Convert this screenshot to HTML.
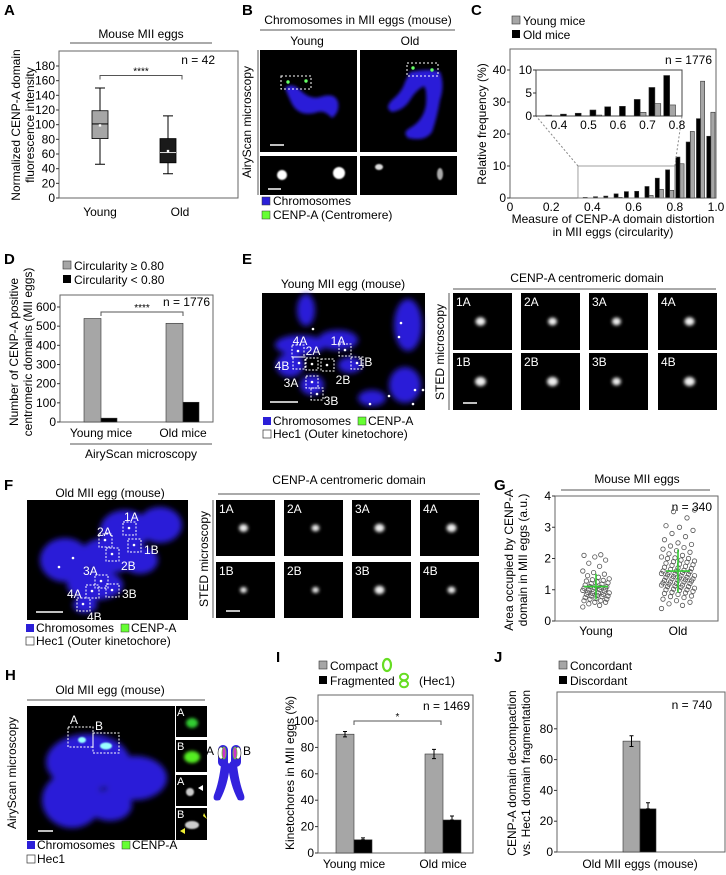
<!DOCTYPE html>
<html><head><meta charset="utf-8">
<style>
html,body{margin:0;padding:0;background:#fff;}
svg{display:block;font-family:"Liberation Sans",Arial,sans-serif;}
.pl{font-weight:bold;font-size:15px;}
.t12{font-size:12px;}
.t11{font-size:11px;}
</style></head>
<body>
<svg id="fig" width="726" height="875" viewBox="0 0 726 875" xmlns="http://www.w3.org/2000/svg">
<defs>
<filter id="bl" x="-20%" y="-20%" width="140%" height="140%"><feGaussianBlur stdDeviation="3"/></filter>
<filter id="bs" x="-50%" y="-50%" width="200%" height="200%"><feGaussianBlur stdDeviation="1.6"/></filter>
<filter id="bt" x="-50%" y="-50%" width="200%" height="200%"><feGaussianBlur stdDeviation="0.7"/></filter>
</defs>

<!-- Panel labels -->
<text class="pl" x="4" y="15">A</text>
<text class="pl" x="242" y="15">B</text>
<text class="pl" x="471" y="15">C</text>
<text class="pl" x="4" y="264">D</text>
<text class="pl" x="242" y="264">E</text>
<text class="pl" x="4" y="490">F</text>
<text class="pl" x="494" y="490">G</text>
<text class="pl" x="5" y="680">H</text>
<text class="pl" x="276" y="662">I</text>
<text class="pl" x="494" y="662">J</text>

<!-- Panel A static -->
<g id="pA">
<text class="t12" x="141" y="38" text-anchor="middle">Mouse MII eggs</text>
<line x1="70" y1="43" x2="212" y2="43" stroke="#555"/>
<rect x="59" y="51" width="179" height="147" fill="none" stroke="#666"/>
<text class="t12" x="215" y="64" text-anchor="end">n = 42</text>
<text class="t12" transform="translate(20,125) rotate(-90)" text-anchor="middle">Normalized CENP-A domain</text>
<text class="t12" transform="translate(34,125) rotate(-90)" text-anchor="middle">fluorescence intensity</text>
</g>

<!-- Panel B images -->
<g id="pB">
<text class="t12" x="358" y="24" text-anchor="middle">Chromosomes in MII eggs (mouse)</text>
<line x1="260" y1="30" x2="455" y2="30" stroke="#555"/>
<text class="t12" x="307" y="45" text-anchor="middle">Young</text>
<text class="t12" x="410" y="45" text-anchor="middle">Old</text>
<line x1="258" y1="50" x2="258" y2="195" stroke="#555"/>
<text class="t12" transform="translate(251,122) rotate(-90)" text-anchor="middle">AiryScan microscopy</text>
<rect x="260" y="50" width="97" height="102" fill="#000"/>
<rect x="360" y="50" width="97" height="102" fill="#000"/>
<rect x="260" y="156" width="97" height="39" fill="#000"/>
<rect x="360" y="156" width="97" height="39" fill="#000"/>
<path d="M285 88 Q292 82 300 90 Q310 100 320 97 Q335 92 338 102 Q340 112 332 118 Q325 110 318 112 Q300 118 292 104 Q288 96 285 88 Z" fill="#2b1fd8" filter="url(#bs)"/>
<path d="M410 72 Q430 68 440 72 Q445 85 440 100 Q437 118 432 132 Q425 142 408 138 Q402 132 410 128 Q424 120 426 104 Q427 90 424 86 Q416 90 410 100 Q404 110 392 112 Q384 108 392 100 Q402 92 405 82 Z" fill="#2b1fd8" filter="url(#bs)"/>
<rect x="281" y="76" width="30" height="13" fill="none" stroke="#fff" stroke-dasharray="2,2"/>
<rect x="407" y="63" width="31" height="13" fill="none" stroke="#fff" stroke-dasharray="2,2"/>
<circle cx="288" cy="82" r="1.7" fill="#6f6"/>
<circle cx="306" cy="81" r="1.7" fill="#6f6"/>
<circle cx="413" cy="68" r="1.7" fill="#6f6"/>
<circle cx="432" cy="70" r="1.7" fill="#6f6"/>
<circle cx="282" cy="175" r="5" fill="#fff" filter="url(#bt)"/>
<circle cx="339" cy="173" r="6" fill="#fff" filter="url(#bt)"/>
<ellipse cx="379" cy="167" rx="4" ry="3" fill="#ddd" filter="url(#bt)"/>
<ellipse cx="440" cy="174" rx="3" ry="6" fill="#aaa" filter="url(#bt)"/>
<line x1="270" y1="145" x2="284" y2="145" stroke="#fff" stroke-width="1.5"/>
<line x1="268" y1="189" x2="281" y2="189" stroke="#fff" stroke-width="1.5"/>
<rect x="262" y="197" width="8" height="8" fill="#2b1fd8" stroke="#333" stroke-width="0.5"/>
<text class="t12" x="273" y="205">Chromosomes</text>
<rect x="262" y="211" width="8" height="8" fill="#6f3" stroke="#333" stroke-width="0.5"/>
<text class="t12" x="273" y="219">CENP-A (Centromere)</text>
</g>

<!-- Panel C static -->
<g id="pC">
<rect x="512" y="16" width="8" height="8" fill="#a6a6a6" stroke="#333" stroke-width="0.6"/>
<text class="t12" x="523" y="25">Young mice</text>
<rect x="512" y="30" width="8" height="8" fill="#000"/>
<text class="t12" x="523" y="39">Old mice</text>
<rect x="510" y="49" width="206" height="149" fill="none" stroke="#666"/>
<text class="t12" x="712" y="64" text-anchor="end">n = 1776</text>
<text class="t12" transform="translate(486,124) rotate(-90)" text-anchor="middle">Relative frequency (%)</text>
<text class="t12" x="613" y="223" text-anchor="middle">Measure of CENP-A domain distortion</text>
<text class="t12" x="613" y="236" text-anchor="middle">in MII eggs (circularity)</text>
</g>

<!-- Panel D static -->
<g id="pD">
<rect x="63" y="261" width="8" height="8" fill="#a6a6a6" stroke="#333" stroke-width="0.6"/>
<text class="t12" x="74" y="270">Circularity ≥ 0.80</text>
<rect x="63" y="275" width="8" height="8" fill="#000"/>
<text class="t12" x="74" y="284">Circularity &lt; 0.80</text>
<rect x="60" y="295" width="153" height="127" fill="none" stroke="#666"/>
<text class="t12" x="210" y="306" text-anchor="end">n = 1776</text>
<text class="t12" transform="translate(18,352) rotate(-90)" text-anchor="middle">Number of CENP-A positive</text>
<text class="t12" transform="translate(32,352) rotate(-90)" text-anchor="middle">centromeric domains (MII eggs)</text>
<line x1="70" y1="444" x2="212" y2="444" stroke="#555"/>
<text class="t12" x="141" y="458" text-anchor="middle">AiryScan microscopy</text>
</g>

<!-- Panel E images -->
<g id="pE">
<text class="t12" x="343" y="288" text-anchor="middle">Young MII egg (mouse)</text>
<rect x="262" y="293" width="163" height="117" fill="#000"/>
<g filter="url(#bl)" fill="#2b1fd8">
<ellipse cx="306" cy="310" rx="9" ry="16"/><ellipse cx="300" cy="345" rx="25" ry="10"/><ellipse cx="290" cy="365" rx="14" ry="12"/>
<ellipse cx="338" cy="340" rx="20" ry="10"/><ellipse cx="312" cy="385" rx="12" ry="10"/><ellipse cx="408" cy="325" rx="14" ry="26"/>
<ellipse cx="405" cy="385" rx="16" ry="18"/><ellipse cx="372" cy="398" rx="14" ry="8"/><ellipse cx="350" cy="365" rx="12" ry="8"/>
</g>
<text class="t12" x="338" y="345" text-anchor="middle" fill="#fff">1A</text>
<text class="t12" x="300" y="345" text-anchor="middle" fill="#fff">4A</text>
<text class="t12" x="313" y="355" text-anchor="middle" fill="#fff">2A</text>
<text class="t12" x="365" y="366" text-anchor="middle" fill="#fff">1B</text>
<text class="t12" x="282" y="370" text-anchor="middle" fill="#fff">4B</text>
<text class="t12" x="343" y="384" text-anchor="middle" fill="#fff">2B</text>
<text class="t12" x="291" y="387" text-anchor="middle" fill="#fff">3A</text>
<text class="t12" x="331" y="405" text-anchor="middle" fill="#fff">3B</text>
<g fill="none" stroke="#fff" stroke-dasharray="2,1.5">
<rect x="292" y="345" width="12" height="12"/><rect x="339" y="344" width="12" height="12"/><rect x="293" y="357" width="12" height="12"/>
<rect x="306" y="358" width="12" height="12"/><rect x="321" y="359" width="13" height="12"/><rect x="351" y="357" width="12" height="12"/>
<rect x="306" y="376" width="12" height="12"/><rect x="311" y="388" width="12" height="12"/>
</g>
<g fill="#fff"><circle cx="298" cy="351" r="1.3"/><circle cx="345" cy="350" r="1.3"/><circle cx="299" cy="363" r="1.3"/><circle cx="312" cy="364" r="1.3"/><circle cx="327" cy="365" r="1.3"/><circle cx="357" cy="363" r="1.3"/><circle cx="312" cy="382" r="1.3"/><circle cx="317" cy="394" r="1.3"/><circle cx="313" cy="329" r="1.3"/><circle cx="401" cy="323" r="1.3"/><circle cx="399" cy="337" r="1.3"/><circle cx="370" cy="404" r="1.3"/><circle cx="389" cy="396" r="1.3"/><circle cx="415" cy="390" r="1.3"/><circle cx="423" cy="390" r="1.3"/><circle cx="413" cy="404" r="1.3"/></g>
<line x1="270" y1="402" x2="298" y2="402" stroke="#fff" stroke-width="1.5"/>
<rect x="263" y="417" width="8" height="8" fill="#2b1fd8"/>
<text class="t12" x="273" y="425">Chromosomes</text>
<rect x="358" y="417" width="8" height="8" fill="#6f3" stroke="#333" stroke-width="0.5"/>
<text class="t12" x="368" y="425">CENP-A</text>
<rect x="263" y="430" width="8" height="8" fill="#fff" stroke="#333" stroke-width="0.7"/>
<text class="t12" x="273" y="438">Hec1 (Outer kinetochore)</text>
<text class="t12" x="587" y="282" text-anchor="middle">CENP-A centromeric domain</text>
<line x1="453" y1="289" x2="716" y2="289" stroke="#555"/>
<line x1="449" y1="293" x2="449" y2="410" stroke="#555"/>
<text class="t12" transform="translate(444,352) rotate(-90)" text-anchor="middle">STED microscopy</text>
<g id="eTiles"></g>
</g>

<!-- Panel F images -->
<g id="pF">
<text class="t12" x="110" y="497" text-anchor="middle">Old MII egg (mouse)</text>
<rect x="27" y="500" width="161" height="120" fill="#000"/>
<g filter="url(#bl)" fill="#2b1fd8">
<ellipse cx="160" cy="525" rx="22" ry="18"/><ellipse cx="125" cy="530" rx="25" ry="20"/><ellipse cx="110" cy="555" rx="30" ry="18"/>
<ellipse cx="65" cy="560" rx="25" ry="22"/><ellipse cx="95" cy="585" rx="28" ry="15"/><ellipse cx="140" cy="560" rx="18" ry="14"/>
<ellipse cx="85" cy="605" rx="12" ry="8"/>
</g>
<g fill="none" stroke="#fff" stroke-dasharray="2,1.5">
<rect x="123" y="522" width="13" height="13"/><rect x="99" y="534" width="13" height="13"/><rect x="128" y="539" width="13" height="13"/>
<rect x="106" y="548" width="13" height="13"/><rect x="95" y="575" width="13" height="13"/><rect x="106" y="584" width="13" height="13"/>
<rect x="86" y="585" width="13" height="13"/><rect x="77" y="598" width="13" height="13"/>
</g>
<g fill="#fff" font-size="12">
<text x="124" y="521">1A</text><text x="97" y="536">2A</text><text x="144" y="554">1B</text><text x="121" y="570">2B</text>
<text x="83" y="575">3A</text><text x="67" y="598">4A</text><text x="122" y="598">3B</text><text x="87" y="621">4B</text>
<circle cx="129" cy="528" r="1.3"/><circle cx="105" cy="540" r="1.3"/><circle cx="134" cy="545" r="1.3"/><circle cx="112" cy="554" r="1.3"/><circle cx="73" cy="558" r="1.3"/><circle cx="59" cy="567" r="1.3"/><circle cx="101" cy="581" r="1.3"/><circle cx="112" cy="590" r="1.3"/><circle cx="92" cy="591" r="1.3"/><circle cx="83" cy="604" r="1.3"/>
</g>
<line x1="36" y1="612" x2="63" y2="612" stroke="#fff" stroke-width="1.5"/>
<rect x="26" y="624" width="8" height="8" fill="#2b1fd8"/>
<text class="t12" x="36" y="632">Chromosomes</text>
<rect x="121" y="624" width="8" height="8" fill="#6f3" stroke="#333" stroke-width="0.5"/>
<text class="t12" x="131" y="632">CENP-A</text>
<rect x="26" y="637" width="8" height="8" fill="#fff" stroke="#333" stroke-width="0.7"/>
<text class="t12" x="36" y="645">Hec1 (Outer kinetochore)</text>
<text class="t12" x="349" y="484" text-anchor="middle">CENP-A centromeric domain</text>
<line x1="218" y1="494" x2="480" y2="494" stroke="#555"/>
<line x1="213" y1="500" x2="213" y2="618" stroke="#555"/>
<text class="t12" transform="translate(208,559) rotate(-90)" text-anchor="middle">STED microscopy</text>
<g id="fTiles"></g>
</g>

<!-- Panel G static -->
<g id="pG">
<text class="t12" x="637" y="483" text-anchor="middle">Mouse MII eggs</text>
<line x1="561" y1="490" x2="710" y2="490" stroke="#555"/>
<rect x="555" y="496" width="163" height="125" fill="none" stroke="#666"/>
<text class="t12" x="712" y="511" text-anchor="end">n = 340</text>
<text class="t12" transform="translate(513,560) rotate(-90)" text-anchor="middle">Area occupied by CENP-A</text>
<text class="t12" transform="translate(527,560) rotate(-90)" text-anchor="middle">domain in MII eggs (a.u.)</text>
</g>

<!-- Panel H images -->
<g id="pH">
<text class="t12" x="110" y="694" text-anchor="middle">Old MII egg (mouse)</text>
<line x1="27" y1="700" x2="205" y2="700" stroke="#555"/>
<line x1="33" y1="706" x2="33" y2="840" stroke="#555"/>
<text class="t12" transform="translate(16,773) rotate(-90)" text-anchor="middle">AiryScan microscopy</text>
<rect x="27" y="706" width="148" height="134" fill="#000"/>
<g filter="url(#bl)" fill="#2b1fd8">
<ellipse cx="88" cy="762" rx="42" ry="28"/><ellipse cx="72" cy="800" rx="30" ry="28"/><ellipse cx="135" cy="778" rx="32" ry="22"/>
<ellipse cx="110" cy="805" rx="22" ry="16"/>
</g>
<rect x="68" y="727" width="25" height="20" fill="none" stroke="#fff" stroke-dasharray="2,1.5"/>
<rect x="93" y="733" width="26" height="20" fill="none" stroke="#fff" stroke-dasharray="2,1.5"/>
<ellipse cx="82" cy="740" rx="4" ry="3" fill="#9ff" filter="url(#bt)"/>
<ellipse cx="106" cy="746" rx="6" ry="3.5" fill="#9ff" filter="url(#bt)"/>
<text x="70" y="724" font-size="12" fill="#fff">A</text>
<text x="95" y="730" font-size="12" fill="#fff">B</text>
<line x1="38" y1="831" x2="53" y2="831" stroke="#fff" stroke-width="1.5"/>
<rect x="176" y="706" width="31" height="31" fill="#000"/>
<rect x="176" y="740" width="31" height="32" fill="#000"/>
<rect x="176" y="775" width="31" height="31" fill="#000"/>
<rect x="176" y="808" width="31" height="32" fill="#000"/>
<ellipse cx="192" cy="723" rx="6" ry="5" fill="#3c3" filter="url(#bs)"/>
<ellipse cx="192" cy="757" rx="8" ry="6" fill="#5e2" filter="url(#bs)"/>
<ellipse cx="190" cy="792" rx="4" ry="4" fill="#ccc" filter="url(#bt)"/>
<ellipse cx="192" cy="825" rx="7" ry="4" fill="#ccc" filter="url(#bt)"/>
<g fill="#fff" font-size="11"><text x="177" y="716">A</text><text x="177" y="750">B</text><text x="177" y="785">A</text><text x="177" y="818">B</text></g>
<polygon points="198,788 203,785 203,791" fill="#fff"/>
<polygon points="203,816 207,819 204,813" fill="#ee3"/>
<polygon points="180,831 185,828 185,834" fill="#ee3"/>
<g>
<path d="M222 755 Q220 780 214 795 Q212 802 220 800 Q228 785 230 765 Z" fill="#3322dd"/>
<path d="M236 755 Q238 780 244 795 Q246 802 238 800 Q230 785 228 765 Z" fill="#3322dd"/>
<rect x="218" y="745" width="10" height="22" rx="5" fill="#3322dd"/>
<rect x="231" y="745" width="10" height="22" rx="5" fill="#3322dd"/>
<ellipse cx="221" cy="753" rx="3" ry="6" fill="#fff" stroke="#333" stroke-width="0.6"/>
<ellipse cx="224" cy="753" rx="2" ry="6" fill="#c3c" stroke="#6c3" stroke-width="0.8"/>
<ellipse cx="238" cy="753" rx="3" ry="6" fill="#fff" stroke="#333" stroke-width="0.6"/>
<ellipse cx="235" cy="753" rx="2" ry="6" fill="#c3c" stroke="#6c3" stroke-width="0.8"/>
<text x="206" y="755" font-size="12">A</text><text x="243" y="755" font-size="12">B</text>
</g>
<rect x="27" y="841" width="8" height="8" fill="#2b1fd8"/>
<text class="t12" x="37" y="849">Chromosomes</text>
<rect x="122" y="841" width="8" height="8" fill="#6f3" stroke="#333" stroke-width="0.5"/>
<text class="t12" x="132" y="849">CENP-A</text>
<rect x="27" y="855" width="8" height="8" fill="#fff" stroke="#333" stroke-width="0.7"/>
<text class="t12" x="37" y="863">Hec1</text>
</g>

<!-- Panel I static -->
<g id="pI">
<rect x="319" y="661" width="8" height="8" fill="#a6a6a6" stroke="#333" stroke-width="0.6"/>
<text class="t12" x="330" y="670">Compact</text>
<ellipse cx="387" cy="665" rx="4" ry="6" fill="none" stroke="#6d2" stroke-width="2.2"/>
<rect x="319" y="676" width="8" height="8" fill="#000"/>
<text class="t12" x="330" y="685">Fragmented</text>
<ellipse cx="404" cy="677" rx="4" ry="3.3" fill="none" stroke="#6d2" stroke-width="2"/>
<ellipse cx="404" cy="684" rx="4" ry="3.3" fill="none" stroke="#6d2" stroke-width="2"/>
<text class="t12" x="419" y="685">(Hec1)</text>
<rect x="318" y="695" width="155" height="158" fill="none" stroke="#666"/>
<text class="t12" x="470" y="710" text-anchor="end">n = 1469</text>
<text class="t12" transform="translate(294,773) rotate(-90)" text-anchor="middle">Kinetochores in MII eggs (%)</text>
</g>

<!-- Panel J static -->
<g id="pJ">
<rect x="559" y="661" width="8" height="8" fill="#a6a6a6" stroke="#333" stroke-width="0.6"/>
<text class="t12" x="570" y="670">Concordant</text>
<rect x="559" y="676" width="8" height="8" fill="#000"/>
<text class="t12" x="570" y="685">Discordant</text>
<rect x="557" y="692" width="168" height="160" fill="none" stroke="#666"/>
<text class="t12" x="712" y="709" text-anchor="end">n = 740</text>
<text class="t12" transform="translate(516,773) rotate(-90)" text-anchor="middle">CENP-A domain decompaction</text>
<text class="t12" transform="translate(530,773) rotate(-90)" text-anchor="middle">vs. Hec1 domain fragmentation</text>
<text class="t12" x="640" y="868" text-anchor="middle">Old MII eggs (mouse)</text>
</g>
</svg>

<script>
// ---------- DATA ----------
// Panel A (box plot)
const aCats = ['Young', 'Old'];
const aMin = [46, 33];
const aQ1 = [81, 48];
const aMed = [101, 62];
const aQ3 = [119, 81];
const aMax = [150, 112];
const aMean = [99, 64];
const aTicks = [0, 20, 40, 60, 80, 100, 120, 140, 160, 180];
// Panel C (histogram)
const cBinStart = [0.35, 0.40, 0.45, 0.50, 0.55, 0.60, 0.65, 0.70, 0.75, 0.80, 0.85, 0.90, 0.95];
const cOld = [0.2, 0.4, 0.6, 1.3, 2.0, 2.1, 3.6, 6.2, 8.8, 12.8, 17.5, 24.8, 19.3];
const cYoung = [0, 0, 0, 0.2, 0, 0, 0.8, 2.7, 2.4, 10.7, 20.8, 36.5, 26.8];
const cYTicks = [0, 10, 20, 30, 40];
const cXTicks = [0, 0.2, 0.4, 0.6, 0.8, 1.0];
const cXTickLabels = ['0', '0.2', '0.4', '0.6', '0.8', '1.0'];
const cInsetYTicks = [0, 5, 10];
const cInsetXTicks = [0.4, 0.5, 0.6, 0.7, 0.8];
// Panel D
const dCats = ['Young mice', 'Old mice'];
const dHigh = [540, 515];
const dLow = [20, 103];
const dTicks = [0, 100, 200, 300, 400, 500, 600];
// Panel G (scatter)
const gCats = ['Young', 'Old'];
const gYoung = [0.45,0.5,0.55,0.6,0.6,0.65,0.65,0.7,0.7,0.72,0.75,0.78,0.8,0.8,0.82,0.85,0.85,0.88,0.9,0.9,0.92,0.95,0.95,0.98,1.0,1.0,1.02,1.05,1.05,1.08,1.1,1.1,1.12,1.15,1.18,1.2,1.22,1.25,1.28,1.3,1.32,1.35,1.4,1.45,1.5,1.55,1.6,1.75,1.85,1.95,2.05,2.1,2.12];
const gOld = [0.4,0.5,0.55,0.6,0.65,0.7,0.75,0.78,0.8,0.85,0.88,0.9,0.92,0.95,0.98,1.0,1.0,1.02,1.05,1.08,1.1,1.1,1.12,1.15,1.15,1.18,1.2,1.2,1.22,1.25,1.25,1.28,1.3,1.3,1.32,1.35,1.35,1.38,1.4,1.4,1.42,1.45,1.45,1.48,1.5,1.5,1.52,1.55,1.55,1.58,1.6,1.6,1.62,1.65,1.68,1.7,1.72,1.75,1.78,1.8,1.82,1.85,1.88,1.9,1.92,1.95,2.0,2.0,2.02,2.05,2.1,2.15,2.2,2.25,2.3,2.35,2.4,2.45,2.5,2.6,2.7,2.8,2.9,3.0,3.05,3.3,3.5,3.55];
const gTicks = [0, 1, 2, 3, 4];
// Panel I
const iCats = ['Young mice', 'Old mice'];
const iCompact = [90, 75];
const iCompactErr = [2, 3.5];
const iFrag = [10, 25];
const iFragErr = [1.5, 3];
const iTicks = [0, 20, 40, 60, 80, 100];
// Panel J
const jCats = ['Old MII eggs (mouse)'];
const jConc = [72];
const jConcErr = [3.5];
const jDisc = [28];
const jDiscErr = [4];
const jTicks = [0, 20, 40, 60, 80];
// Tiles
const tileLabels = [['1A','2A','3A','4A'],['1B','2B','3B','4B']];

// ---------- HELPERS ----------
const NS = 'http://www.w3.org/2000/svg';
const svg = document.getElementById('fig');
function E(p, tag, a, txt) {
  const e = document.createElementNS(NS, tag);
  for (const k in a) e.setAttribute(k, a[k]);
  if (txt !== undefined) e.textContent = txt;
  p.appendChild(e);
  return e;
}
function yAxis(g, x, scale, ticks, labels) {
  ticks.forEach((v, i) => {
    const t = E(g, 'line', {x1: x - 3, x2: x, y1: scale(v), y2: scale(v), stroke: '#333'});
    
    
    const l = E(g, 'text', {x: x - 4, y: scale(v) + 4, 'text-anchor': 'end', 'font-size': 12}, labels ? labels[i] : String(v));
    
    
  });
}
function xLabel(g, x, y, txt) {
  const l = E(g, 'text', {x: x, y: y, 'text-anchor': 'middle', 'font-size': 12}, txt);
  
  
}
function bar(g, x, w, y0, y1, fill, name) {
  const r = E(g, 'rect', {x: x, y: y1, width: w, height: y0 - y1, fill: fill, stroke: '#333', 'stroke-width': 0.6});
  
  
  return r;
}
function errBar(g, cx, yv, yTop, yBot) {
  const e = E(g, 'path', {d: `M${cx} ${yTop}V${yBot}M${cx-2} ${yTop}H${cx+2}M${cx-2} ${yBot}H${cx+2}`, stroke: '#000', fill: 'none', 'stroke-width': 1});
  
  
}
function bracket(g, x1, x2, y, label) {
  const b = E(g, 'path', {d: `M${x1} ${y+4}V${y}H${x2}V${y+4}`, stroke: '#555', fill: 'none'});
  
  
  const t = E(g, 'text', {x: (x1 + x2) / 2, y: y - 1, 'text-anchor': 'middle', 'font-size': 10}, label);
  
  
}

// ---------- PANEL A ----------
(function () {
  const g = document.getElementById('pA');
  const yA = v => 198 - v * 132 / 180;
  const aX = [100, 168];
  const fills = ['#a6a6a6', '#1a1a1a'];
  yAxis(g, 59, yA, aTicks);
  aCats.forEach((c, i) => {
    const cx = aX[i];
    const w = E(g, 'path', {d: `M${cx} ${yA(aMax[i])}V${yA(aQ3[i])}M${cx} ${yA(aQ1[i])}V${yA(aMin[i])}M${cx-5} ${yA(aMax[i])}H${cx+5}M${cx-5} ${yA(aMin[i])}H${cx+5}`, stroke: '#000', fill: 'none'});
    
    
    const b = E(g, 'rect', {x: cx - 8, y: yA(aQ3[i]), width: 16, height: yA(aQ1[i]) - yA(aQ3[i]), fill: fills[i], stroke: '#000', 'stroke-width': 0.8});
    
    
    const m = E(g, 'line', {x1: cx - 8, x2: cx + 8, y1: yA(aMed[i]), y2: yA(aMed[i]), stroke: i ? '#ddd' : '#000'});
    
    
    const mn = E(g, 'rect', {x: cx - 1.2, y: yA(aMean[i]) - 1.2, width: 2.4, height: 2.4, fill: '#fff'});
    
    
  });
  xLabel(g, 100, 216, aCats[0]);
  xLabel(g, 180, 216, aCats[1]);
  bracket(g, 100, 182, yA(167), '****');
})();

// ---------- PANEL C ----------
(function () {
  const g = document.getElementById('pC');
  const xC = v => 510 + v * 206;
  const yC = v => 198 - v * 3.2;
  yAxis(g, 510, yC, cYTicks);
  cXTicks.forEach((v, i) => {
    const l = E(g, 'text', {x: xC(v), y: 211, 'text-anchor': 'middle', 'font-size': 12}, cXTickLabels[i]);
    
    
  });
  cBinStart.forEach((s, i) => {
    bar(g, xC(s + 0.005), xC(s + 0.025) - xC(s + 0.005), 198, yC(cOld[i]), '#000', 'bar-old');
    bar(g, xC(s + 0.025), xC(s + 0.045) - xC(s + 0.025), 198, yC(cYoung[i]), '#a6a6a6', 'bar-young');
  });
  const zr = E(g, 'rect', {x: xC(0.33), y: yC(10), width: xC(0.8) - xC(0.33), height: 198 - yC(10), fill: 'none', stroke: '#888', 'stroke-width': 0.8});
  
  
  const d1 = E(g, 'path', {d: `M${xC(0.33)} ${yC(10)}L536 116M${xC(0.8)} ${yC(10)}L682 116`, stroke: '#888', 'stroke-dasharray': '2,2', fill: 'none'});
  
  
  const xI = v => 559 + (v - 0.4) * 295;
  const yI = v => 116 - v * 4.6;
  const ib = E(g, 'rect', {x: 536, y: 70, width: 146, height: 46, fill: '#fff', stroke: '#444'});
  
  
  yAxis(g, 536, yI, cInsetYTicks);
  cInsetXTicks.forEach(v => {
    const l = E(g, 'text', {x: xI(v), y: 129, 'text-anchor': 'middle', 'font-size': 12}, String(v));
    
    
  });
  cBinStart.forEach((s, i) => {
    if (s > 0.76) return;
    bar(g, xI(s + 0.005), xI(s + 0.025) - xI(s + 0.005), 116, yI(cOld[i]), '#000', 'inset-bar-old');
    bar(g, xI(s + 0.025), xI(s + 0.045) - xI(s + 0.025), 116, yI(cYoung[i]), '#a6a6a6', 'inset-bar-young');
  });
})();

// ---------- PANEL D ----------
(function () {
  const g = document.getElementById('pD');
  const yD = v => 422 - v * 115 / 600;
  const dX = [84, 166];
  yAxis(g, 60, yD, dTicks);
  dCats.forEach((c, i) => {
    bar(g, dX[i], 17, 422, yD(dHigh[i]), '#a6a6a6', 'bar-circularity-high');
    bar(g, dX[i] + 17, 16, 422, yD(dLow[i]), '#000', 'bar-circularity-low');
    xLabel(g, dX[i] + 17, 437, c);
  });
  bracket(g, 101, 183, 312, '****');
})();

// ---------- STED TILES ----------
function tiles(gid, xs, ys, w, h, blobSizes) {
  const g = document.getElementById(gid);
  ys.forEach((y, r) => xs.forEach((x, c) => {
    const t = E(g, 'rect', {x: x, y: y, width: w, height: h, fill: '#000'});
    
    
    const b = E(g, 'ellipse', {cx: x + w * 0.5 + (c % 2 ? 2 : -2), cy: y + h * 0.5, rx: blobSizes[r][c], ry: blobSizes[r][c] * 0.85, fill: '#eee', filter: 'url(#bs)'});
    
    
    const l = E(g, 'text', {x: x + 3, y: y + 13, fill: '#fff', 'font-size': 12}, tileLabels[r][c]);
    
    
  }));
  const sb = E(g, 'line', {x1: xs[0] + 10, x2: xs[0] + 24, y1: ys[1] + h - 7, y2: ys[1] + h - 7, stroke: '#fff', 'stroke-width': 1.5});
  
  
}
tiles('eTiles', [453, 521, 589, 658], [293, 353], 59, 57, [[5, 4.5, 4.5, 5], [5.5, 5.5, 4.5, 5.5]]);
tiles('fTiles', [216, 284, 352, 420], [500, 562], 59, 56, [[4.5, 4, 5, 5], [3.5, 3.5, 5, 4]]);

// ---------- PANEL G ----------
(function () {
  const g = document.getElementById('pG');
  const yG = v => 621 - v * 31.25;
  const gX = [596, 678];
  yAxis(g, 555, yG, gTicks);
  [gYoung, gOld].forEach((arr, k) => {
    arr.forEach((v, i) => {
      const off = (((i * 37) % 23) - 11) * (k ? 1.5 : 1.2);
      const p = E(g, 'circle', {cx: gX[k] + off, cy: yG(v), r: 2.2, fill: 'none', stroke: '#555', 'stroke-width': 0.8});
      
      
    });
    const mean = arr.reduce((a, b) => a + b, 0) / arr.length;
    const sd = Math.sqrt(arr.reduce((a, b) => a + (b - mean) * (b - mean), 0) / arr.length);
    const ms = E(g, 'path', {d: `M${gX[k]-12} ${yG(mean)}H${gX[k]+12}M${gX[k]} ${yG(mean+sd)}V${yG(mean-sd)}`, stroke: '#3c3', 'stroke-width': 1.6, fill: 'none'});
    
    
    xLabel(g, gX[k], 635, gCats[k]);
  });
})();

// ---------- PANEL I ----------
(function () {
  const g = document.getElementById('pI');
  const yI = v => 853 - v * 1.32;
  const iX = [336, 425];
  yAxis(g, 318, yI, iTicks);
  iCats.forEach((c, i) => {
    bar(g, iX[i], 18, 853, yI(iCompact[i]), '#a6a6a6', 'bar-compact');
    errBar(g, iX[i] + 9, iCompact[i], yI(iCompact[i] + iCompactErr[i]), yI(iCompact[i] - iCompactErr[i]));
    bar(g, iX[i] + 18, 18, 853, yI(iFrag[i]), '#000', 'bar-fragmented');
    errBar(g, iX[i] + 27, iFrag[i], yI(iFrag[i] + iFragErr[i]), yI(iFrag[i]));
    xLabel(g, iX[i] + 18, 868, c);
  });
  bracket(g, 354, 441, yI(100), '*');
})();

// ---------- PANEL J ----------
(function () {
  const g = document.getElementById('pJ');
  const yJ = v => 852 - v * 1.54;
  yAxis(g, 557, yJ, jTicks);
  jCats.forEach((c, i) => {
    bar(g, 623, 17, 852, yJ(jConc[i]), '#a6a6a6', 'bar-concordant');
    errBar(g, 631.5, jConc[i], yJ(jConc[i] + jConcErr[i]), yJ(jConc[i] - jConcErr[i]));
    bar(g, 640, 16, 852, yJ(jDisc[i]), '#000', 'bar-discordant');
    errBar(g, 648, jDisc[i], yJ(jDisc[i] + jDiscErr[i]), yJ(jDisc[i]));
  });
})();
</script>
</body></html>
